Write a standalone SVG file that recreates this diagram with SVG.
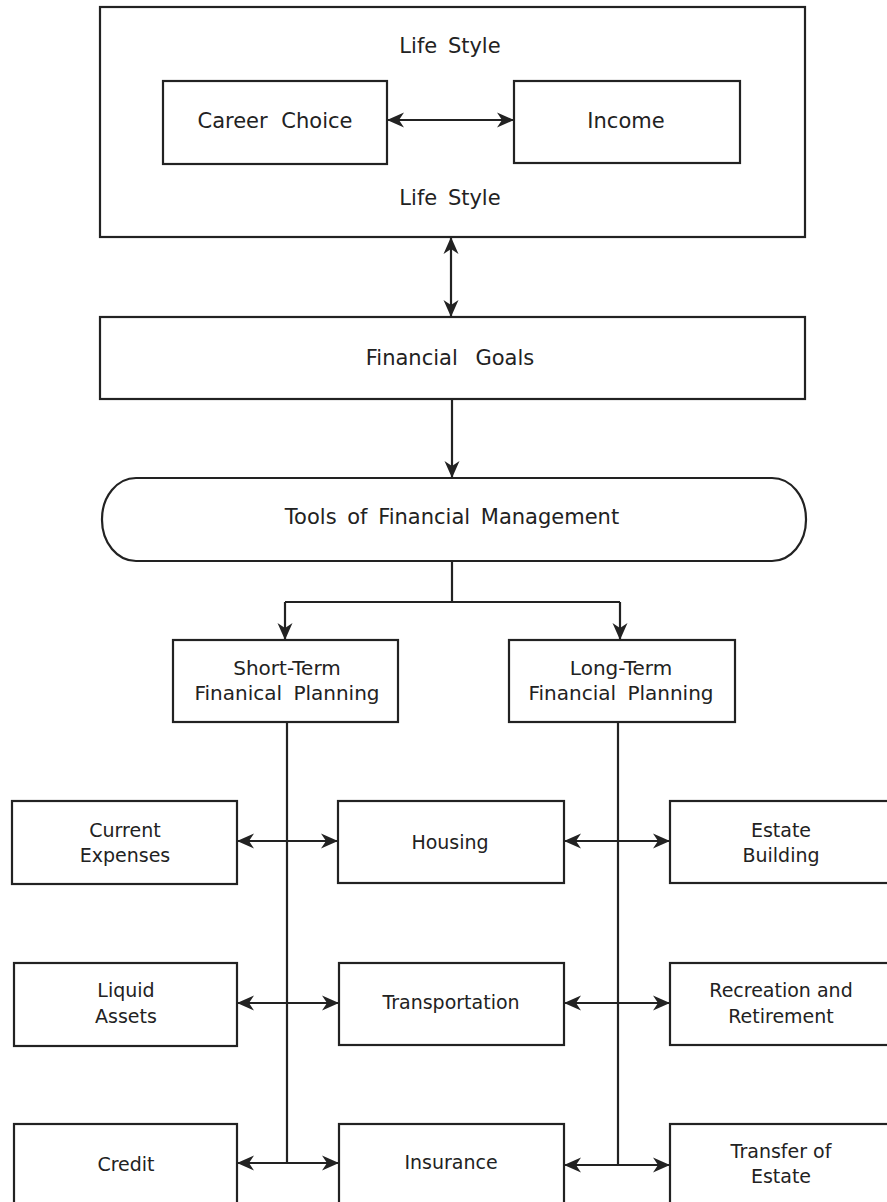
<svg xmlns="http://www.w3.org/2000/svg" width="887" height="1202" viewBox="0 0 887 1202">
<style>
.box{fill:none;stroke:#222;stroke-width:2.2}
.ln{fill:none;stroke:#222;stroke-width:2.2}
.dbl{marker-start:url(#ah);marker-end:url(#ah)}
.one{marker-end:url(#ah)}
text{font-family:"DejaVu Sans","Liberation Sans",sans-serif;fill:#222;text-anchor:middle}
.t1{font-size:21px;word-spacing:4px}
.t2{font-size:20px;word-spacing:5px}
.t3{font-size:19px}
</style>
<defs>
<marker id="ah" viewBox="0 0 17 16" refX="17" refY="8" markerWidth="17" markerHeight="16" markerUnits="userSpaceOnUse" orient="auto-start-reverse">
<path d="M0,0.5 L17,8 L0,15.5 L5,8 Z" fill="#222"/>
</marker>
</defs>
<rect width="887" height="1202" fill="#fff"/>
<g id="lifestyle">
<rect class="box" x="100" y="7" width="705" height="230"/>
<text class="t1" x="450" y="53">Life Style</text>
<text class="t1" x="450" y="205">Life Style</text>
</g>
<g id="career">
<rect class="box" x="163" y="81" width="224" height="83"/>
<text class="t1" x="275" y="128" style="word-spacing:7px">Career Choice</text>
</g>
<g id="income">
<rect class="box" x="514" y="81" width="226" height="82"/>
<text class="t1" x="626" y="128">Income</text>
</g>
<g id="goals">
<rect class="box" x="100" y="317" width="705" height="82"/>
<text class="t1" x="450" y="365" style="word-spacing:11px">Financial Goals</text>
</g>
<g id="tools">
<rect class="box" x="102" y="478" width="704" height="83" rx="34" ry="41"/>
<text class="t1" x="452" y="524">Tools of Financial Management</text>
</g>
<g id="shortterm">
<rect class="box" x="173" y="640" width="225" height="82"/>
<text class="t2" x="287" y="675">Short-Term</text>
<text class="t2" x="287" y="700">Finanical Planning</text>
</g>
<g id="longterm">
<rect class="box" x="509" y="640" width="226" height="82"/>
<text class="t2" x="621" y="675">Long-Term</text>
<text class="t2" x="621" y="700">Financial Planning</text>
</g>
<g id="current">
<rect class="box" x="12" y="801" width="225" height="83"/>
<text class="t3" x="125" y="837">Current</text>
<text class="t3" x="125" y="862">Expenses</text>
</g>
<g id="housing">
<rect class="box" x="338" y="801" width="226" height="82"/>
<text class="t3" x="450" y="849">Housing</text>
</g>
<g id="estate">
<rect class="box" x="670" y="801" width="224" height="82"/>
<text class="t3" x="781" y="837">Estate</text>
<text class="t3" x="781" y="862">Building</text>
</g>
<g id="liquid">
<rect class="box" x="14" y="963" width="223" height="83"/>
<text class="t3" x="126" y="997">Liquid</text>
<text class="t3" x="126" y="1023">Assets</text>
</g>
<g id="transport">
<rect class="box" x="339" y="963" width="225" height="82"/>
<text class="t3" x="451" y="1009">Transportation</text>
</g>
<g id="recreation">
<rect class="box" x="670" y="963" width="224" height="82"/>
<text class="t3" x="781" y="997">Recreation and</text>
<text class="t3" x="781" y="1023">Retirement</text>
</g>
<g id="credit">
<rect class="box" x="14" y="1124" width="223" height="90"/>
<text class="t3" x="126" y="1171">Credit</text>
</g>
<g id="insurance">
<rect class="box" x="339" y="1124" width="225" height="90"/>
<text class="t3" x="451" y="1169">Insurance</text>
</g>
<g id="transfer">
<rect class="box" x="670" y="1124" width="224" height="90"/>
<text class="t3" x="781" y="1158">Transfer of</text>
<text class="t3" x="781" y="1183">Estate</text>
</g>
<g id="connectors">
<line class="ln dbl" x1="387" y1="120" x2="514" y2="120"/>
<line class="ln dbl" x1="451" y1="237" x2="451" y2="317"/>
<line class="ln one" x1="452" y1="399" x2="452" y2="478"/>
<path class="ln" d="M452,561 V602 M285,602 H620"/>
<line class="ln one" x1="285" y1="602" x2="285" y2="640"/>
<line class="ln one" x1="620" y1="602" x2="620" y2="640"/>
<line class="ln" x1="287" y1="722" x2="287" y2="1163"/>
<line class="ln" x1="618" y1="722" x2="618" y2="1165"/>
<line class="ln dbl" x1="237" y1="841" x2="338" y2="841"/>
<line class="ln dbl" x1="564" y1="841" x2="670" y2="841"/>
<line class="ln dbl" x1="237" y1="1003" x2="339" y2="1003"/>
<line class="ln dbl" x1="564" y1="1003" x2="670" y2="1003"/>
<line class="ln dbl" x1="237" y1="1163" x2="339" y2="1163"/>
<line class="ln dbl" x1="564" y1="1165" x2="670" y2="1165"/>
</g>
</svg>
